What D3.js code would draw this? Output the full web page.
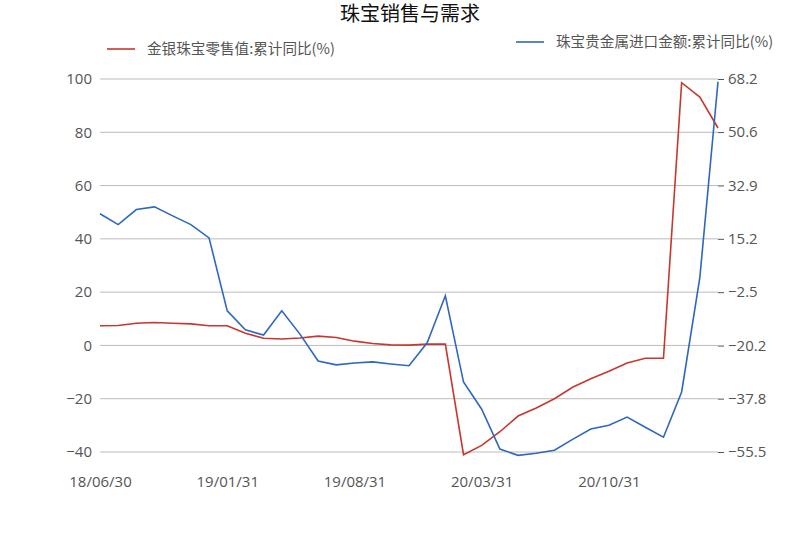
<!DOCTYPE html>
<html><head><meta charset="utf-8">
<script src="https://d3js.org/d3.v7.min.js"></script>
<style>body{margin:0;background:#fff;font-family:"Noto Sans CJK SC","Noto Sans",sans-serif;}</style>
</head><body><svg id="c" width="800" height="533"></svg>
<script>
const months = [];
for (let i = 0; i < 35; i++) {
  const d = new Date(2018, 5 + i + 1, 0);
  months.push(d3.timeFormat("%y/%m/%d")(d));
}
const tickLabels = ["18/06/30", "19/01/31", "19/08/31", "20/03/31", "20/10/31"];
const retail = [7.4,7.5,8.3,8.6,8.3,8.1,7.4,7.4,4.6,2.7,2.4,2.8,3.5,3.0,1.6,0.7,0.2,0.1,0.5,0.5,
  -41.0,-37.5,-32.4,-26.5,-23.5,-20.0,-15.7,-12.5,-9.7,-6.6,-4.8,-4.8,98.6,93.2,81.6];
const imports = [23.5,19.9,24.9,25.8,22.8,19.9,15.5,-8.7,-15.0,-16.7,-8.7,-16.4,-25.3,-26.6,-26.0,-25.6,-26.3,-26.9,-19.3,-3.7,
  -32.3,-41.3,-54.5,-56.6,-55.9,-54.9,-51.3,-47.9,-46.6,-43.9,-47.3,-50.6,-35.6,2.3,67.3];
const leftTicks = [-40,-20,0,20,40,60,80,100];
const rightTicks = [-55.5,-37.8,-20.2,-2.5,15.2,32.9,50.6,68.2];

const svg = d3.select("#c");
const x = d3.scalePoint().domain(months).range([100, 718]);
const yL = d3.scaleLinear().domain([-40, 100]).range([452, 79]);
const yR = d3.scaleLinear().domain([-55.5, 68.2]).range([452, 79]);

svg.append("g").selectAll("line").data(leftTicks).join("line")
  .attr("x1", 100).attr("x2", 718).attr("y1", d => yL(d)).attr("y2", d => yL(d))
  .attr("stroke", "#bbb").attr("stroke-width", 1);

const gl = svg.append("g").attr("transform", "translate(100,0)")
  .call(d3.axisLeft(yL).tickValues(leftTicks).tickSize(0).tickPadding(8).tickFormat(d => d < 0 ? "\u2212" + (-d) : d));
const gr = svg.append("g").attr("transform", "translate(718,0)")
  .call(d3.axisRight(yR).tickValues(rightTicks).tickSize(6).tickPadding(4).tickFormat(d => d < 0 ? "\u2212" + (-d).toFixed(1) : d.toFixed(1)));
const gx = svg.append("g").attr("transform", "translate(0,452)")
  .call(d3.axisBottom(x).tickValues(tickLabels).tickSize(0).tickPadding(24));
[gl, gr, gx].forEach(g => {
  g.select(".domain").remove();
  g.selectAll("text").attr("fill", "#555").style("font-size", "15px").style("font-family", "'Open Sans',sans-serif");
});
gr.selectAll("line").attr("stroke", "#555");

const lineL = d3.line().x((d, i) => x(months[i])).y(d => yL(d));
const lineR = d3.line().x((d, i) => x(months[i])).y(d => yR(d));
svg.append("path").datum(retail).attr("d", lineL).attr("fill", "none").attr("stroke", "#c8372d").attr("stroke-width", 1.6);
svg.append("path").datum(imports).attr("d", lineR).attr("fill", "none").attr("stroke", "#2e67c0").attr("stroke-width", 1.6);

svg.append("text").attr("x", 410).attr("y", 21).attr("text-anchor", "middle")
  .style("font-size", "20px").attr("fill", "#111").text("珠宝销售与需求");
const legends = [
  {x: 107, y: 49, c: "#c8372d", t: "金银珠宝零售值:累计同比(%)"},
  {x: 516, y: 42, c: "#2e67c0", t: "珠宝贵金属进口金额:累计同比(%)"}
];
legends.forEach(l => {
  svg.append("line").attr("x1", l.x).attr("x2", l.x + 28).attr("y1", l.y).attr("y2", l.y)
    .attr("stroke", l.c).attr("stroke-width", 1.6);
  svg.append("text").attr("x", l.x + 40).attr("y", l.y + 5).attr("fill", "#555")
    .style("font-size", "14.6px").text(l.t);
});
</script></body></html>
